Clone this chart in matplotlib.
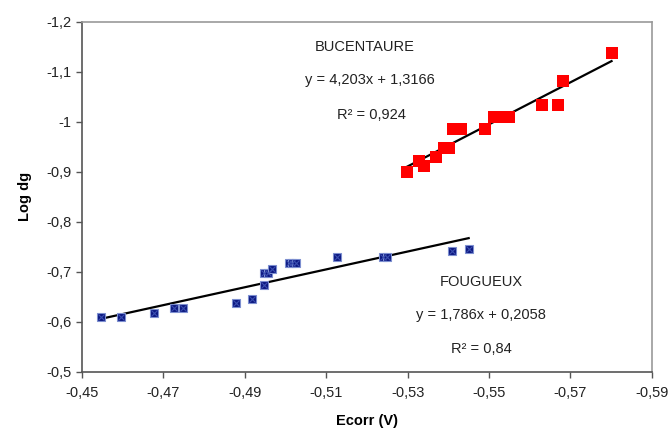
import matplotlib
matplotlib.use("Agg")
import matplotlib.pyplot as plt
import numpy as np
from matplotlib.ticker import FuncFormatter

# Fougueux (blue) points
fougueux_ecorr = [-0.4547, -0.4597, -0.4677, -0.4726, -0.4747, -0.4878, -0.4918,
                  -0.4947, -0.4947, -0.4958, -0.4968, -0.5008, -0.5017, -0.5027,
                  -0.5127, -0.5240, -0.5250, -0.5410, -0.5450]
fougueux_logdg = [-0.610, -0.610, -0.618, -0.628, -0.628, -0.637, -0.646,
                  -0.673, -0.698, -0.698, -0.706, -0.718, -0.718, -0.718,
                  -0.729, -0.729, -0.729, -0.741, -0.745]

# Bucentaure (red) points
bucentaure_ecorr = [-0.5299, -0.5328, -0.5340, -0.5369, -0.5390, -0.5401, -0.5412,
                    -0.5431, -0.5490, -0.5512, -0.5527, -0.5550, -0.5629, -0.5670,
                    -0.5681, -0.5801]
bucentaure_logdg = [-0.899, -0.922, -0.911, -0.929, -0.947, -0.947, -0.986,
                    -0.986, -0.986, -1.009, -1.009, -1.009, -1.033, -1.033,
                    -1.081, -1.137]

# trend lines as printed on the chart
fougueux_fit = (1.786, 0.2058)
bucentaure_fit = (4.203, 1.3166)

x_ticks = [-0.45, -0.47, -0.49, -0.51, -0.53, -0.55, -0.57, -0.59]
y_ticks = [-0.5, -0.6, -0.7, -0.8, -0.9, -1.0, -1.1, -1.2]

plt.rcParams["font.family"] = ["Liberation Sans", "DejaVu Sans"]

fig = plt.figure(figsize=(6.72, 4.29), dpi=100)
ax = fig.add_axes([0.122, 0.133, 0.848, 0.816])


def comma(v, _pos):
  s = f"{v:.2f}".rstrip("0").rstrip(".")
  return s.replace(".", ",")


# trend lines first, markers on top
for xs, (a, b) in [(fougueux_ecorr, fougueux_fit), (bucentaure_ecorr, bucentaure_fit)]:
  x_line = np.array([min(xs), max(xs)])
  ax.plot(x_line, a * x_line + b, color="black", linewidth=1.6, zorder=2)

ax.plot(bucentaure_ecorr, bucentaure_logdg, linestyle="none", marker="s",
        markersize=8.3, color="#ff0000", markeredgewidth=0, zorder=3)
ax.plot(fougueux_ecorr, fougueux_logdg, linestyle="none", marker="s",
        markersize=6, markerfacecolor="#0b1780", markeredgecolor="#7d8fd0",
        markeredgewidth=0.8, zorder=3)
ax.plot(fougueux_ecorr, fougueux_logdg, linestyle="none", marker="x",
        markersize=4, color="#3b4fb0", markeredgewidth=0.8, zorder=4)

ax.set_xlim(-0.45, -0.59)
ax.set_ylim(-0.5, -1.2)
ax.set_xticks(x_ticks)
ax.set_yticks(y_ticks)
ax.xaxis.set_major_formatter(FuncFormatter(comma))
ax.yaxis.set_major_formatter(FuncFormatter(comma))
ax.tick_params(direction="out", length=4, width=1, color="#555555",
               labelsize=10.5, labelcolor="#222222")
ax.tick_params(axis="x", pad=6)

for side in ("left", "bottom"):
  ax.spines[side].set_color("#555555")
  ax.spines[side].set_linewidth(1.2)
for side in ("top", "right"):
  ax.spines[side].set_color("#999999")
  ax.spines[side].set_linewidth(1.2)

ax.set_xlabel("Ecorr (V)", fontsize=10.5, fontweight="bold", labelpad=10)
ax.set_ylabel("Log dg", fontsize=10.5, fontweight="bold", labelpad=10)

txt = dict(ha="center", va="center", fontsize=10.5, color="#222222",
           transform=fig.transFigure)
fig.text(365 / 672, 1 - 47 / 429, "BUCENTAURE", **txt)
fig.text(370 / 672, 1 - 80 / 429, "y = 4,203x + 1,3166", **txt)
fig.text(371 / 672, 1 - 115 / 429, "R² = 0,924", **txt)
fig.text(481 / 672, 1 - 282 / 429, "FOUGUEUX", **txt)
fig.text(481 / 672, 1 - 315 / 429, "y = 1,786x + 0,2058", **txt)
fig.text(481 / 672, 1 - 349 / 429, "R² = 0,84", **txt)

fig.savefig("out.png", dpi=100)
